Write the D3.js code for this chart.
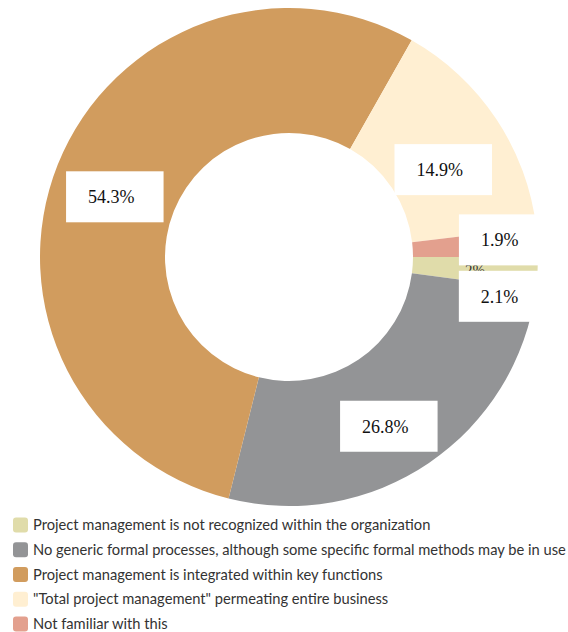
<!DOCTYPE html>
<html>
<head>
<meta charset="utf-8">
<script src="https://cdn.jsdelivr.net/npm/d3@7.9.0/dist/d3.min.js"></script>
<style>
  body { margin: 0; background: #fff; }
  svg { display: block; }
  .legend text { font-family: Lato, sans-serif; font-size: 14.7px; fill: #333; }
  .box-label { font-family: "Liberation Serif", "Times New Roman", serif; font-size: 18px; fill: #111; }
  .inner-label { font-family: "Liberation Serif", serif; font-size: 15px; fill: #333; }
</style>
</head>
<body>
<svg id="chart" width="568" height="632"></svg>
<script>
const categories = [
  'Project management is not recognized within the organization',
  'No generic formal processes, although some specific formal methods may be in use',
  'Project management is integrated within key functions',
  '"Total project management" permeating entire business',
  'Not familiar with this'
];
const values = [2.1, 26.8, 54.3, 14.9, 1.9];
const colors = ['#e0dcaa', '#939496', '#d19c5e', '#ffefd2', '#e3a08e'];

// nudges for the boxed labels, relative to each slice centroid
const labelNudge = [[28, 27], [-5, 15], [-1, 9], [-1, 16], [28, -6]];

const cx = 289, cy = 257;
const outerR = 249, innerR = 124;

const data = categories.map((c, i) => ({ label: c, value: values[i], color: colors[i] }));

let svg = d3.select('#chart');
let g = svg.append('g').attr('transform', `translate(${cx},${cy})`);

let pie = d3.pie().sort(null).value(d => d.value)
  .startAngle(Math.PI / 2).endAngle(Math.PI / 2 + 2 * Math.PI);
let arcGen = d3.arc().innerRadius(innerR).outerRadius(outerR);
let midArc = d3.arc().innerRadius((innerR + outerR) / 2).outerRadius((innerR + outerR) / 2);
let arcs = pie(data);

g.selectAll('path.slice')
  .data(arcs)
  .join('path')
  .attr('class', 'slice')
  .attr('d', arcGen)
  .attr('fill', d => d.data.color);

// small rounded labels of the thin slices, mostly hidden under the boxes
g.selectAll('text.inner-label')
  .data(arcs.filter(d => d.data.value < 5))
  .join('text')
  .attr('class', 'inner-label')
  .attr('text-anchor', 'middle')
  .attr('dy', '0.35em')
  .attr('x', d => midArc.centroid(d)[0])
  .attr('y', d => midArc.centroid(d)[1])
  .text(d => Math.round(d.data.value) + '%');

// boxed labels
arcs.forEach((d, i) => {
  let [x, y] = midArc.centroid(d);
  x += labelNudge[i][0];
  y += labelNudge[i][1];
  let lg = g.append('g');
  let rect = lg.append('rect').attr('fill', '#fff');
  let t = lg.append('text')
    .attr('class', 'box-label')
    .attr('text-anchor', 'middle')
    .attr('x', x - 3.5)
    .attr('y', y)
    .attr('dy', '0.35em')
    .text(d.data.value.toFixed(1) + '%');
  let tw = t.node().getComputedTextLength();
  let w = tw + 51;
  rect.attr('x', x - w / 2).attr('y', y - 25.5).attr('width', w).attr('height', 51);
});

// legend
let legend = svg.append('g').attr('class', 'legend');
data.forEach((d, i) => {
  let row = legend.append('g').attr('transform', `translate(13,${525 + i * 24.75})`);
  row.append('rect')
    .attr('x', 0).attr('y', -7.5)
    .attr('width', 15).attr('height', 15)
    .attr('rx', 3)
    .attr('fill', d.color);
  row.append('text')
    .attr('x', 20).attr('y', 0).attr('dy', '0.35em')
    .text(d.label);
});
</script>
</body>
</html>
